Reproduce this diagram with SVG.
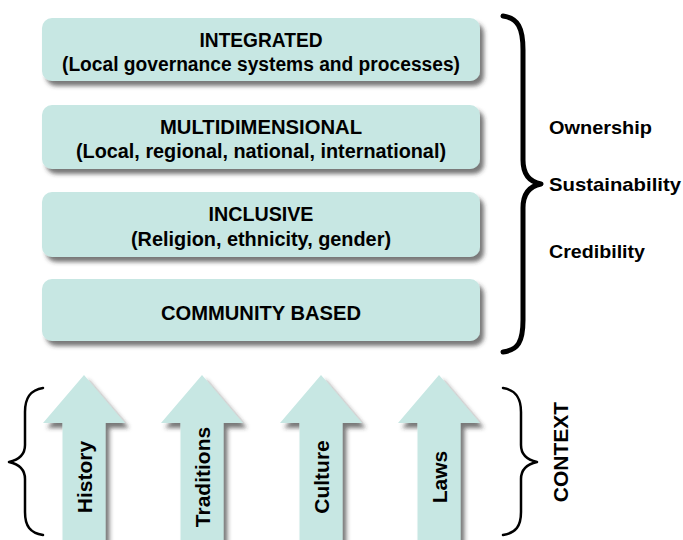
<svg xmlns="http://www.w3.org/2000/svg" width="683" height="540" viewBox="0 0 683 540">
<defs>
<filter id="sh" x="-10%" y="-20%" width="130%" height="150%">
<feDropShadow dx="4" dy="5" stdDeviation="2.2" flood-color="#333" flood-opacity="0.65"/>
</filter>
</defs>
<style>
.box{fill:#c7e7e3;filter:url(#sh)}
.arrow{fill:#c7e7e3;filter:url(#sh)}
.t{font-family:"Liberation Sans",Arial,sans-serif;font-weight:bold;font-size:20px;fill:#000;text-anchor:middle}
.s{font-family:"Liberation Sans",Arial,sans-serif;font-weight:bold;font-size:19px;fill:#000}
.v{font-family:"Liberation Sans",Arial,sans-serif;font-weight:bold;font-size:21px;fill:#000;text-anchor:middle}
.brace{fill:none;stroke:#000;stroke-linecap:round;stroke-linejoin:round}
</style>
<rect width="683" height="540" fill="#fff"/>
<g id="integrated">
<rect class="box" x="42" y="18" width="438" height="63" rx="10"/>
<text class="t" x="261" y="47" textLength="123" lengthAdjust="spacingAndGlyphs">INTEGRATED</text>
<text class="t" x="261" y="71" textLength="398" lengthAdjust="spacingAndGlyphs">(Local governance systems and processes)</text>
</g>
<g id="multidimensional">
<rect class="box" x="42" y="105" width="438" height="64" rx="10"/>
<text class="t" x="261" y="134" textLength="202" lengthAdjust="spacingAndGlyphs">MULTIDIMENSIONAL</text>
<text class="t" x="261" y="158" textLength="370" lengthAdjust="spacingAndGlyphs">(Local, regional, national, international)</text>
</g>
<g id="inclusive">
<rect class="box" x="42" y="192" width="438" height="65" rx="10"/>
<text class="t" x="261" y="221" textLength="105" lengthAdjust="spacingAndGlyphs">INCLUSIVE</text>
<text class="t" x="261" y="246" textLength="260" lengthAdjust="spacingAndGlyphs">(Religion, ethnicity, gender)</text>
</g>
<g id="community">
<rect class="box" x="42" y="279" width="438" height="62" rx="10"/>
<text class="t" x="261" y="320" textLength="200" lengthAdjust="spacingAndGlyphs">COMMUNITY BASED</text>
</g>
<g id="brace-right">
<path class="brace" stroke-width="5" d="M503,16 C518,18 523,28 523,50 L523,160 C523,175 530,182 541,184 C530,186 523,193 523,208 L523,320 C523,342 518,350 503,352"/>
</g>
<g id="qualities">
<text class="s" x="549" y="134" textLength="103" lengthAdjust="spacingAndGlyphs">Ownership</text>
<text class="s" x="549" y="191" textLength="132" lengthAdjust="spacingAndGlyphs">Sustainability</text>
<text class="s" x="549" y="258" textLength="96" lengthAdjust="spacingAndGlyphs">Credibility</text>
</g>
<g id="connectors">
<g id="arrow-history">
<polygon class="arrow" points="84,375 125,423 105.5,423 105.5,548 62.5,548 62.5,423 43,423"/>
<text class="v" transform="translate(91.5,477) rotate(-90)">History</text>
</g>
<g id="arrow-traditions">
<polygon class="arrow" points="202,375 243,423 223.5,423 223.5,548 180.5,548 180.5,423 161,423"/>
<text class="v" transform="translate(209.5,477) rotate(-90)">Traditions</text>
</g>
<g id="arrow-culture">
<polygon class="arrow" points="321,375 362,423 342.5,423 342.5,548 299.5,548 299.5,423 280,423"/>
<text class="v" transform="translate(328.5,477) rotate(-90)">Culture</text>
</g>
<g id="arrow-laws">
<polygon class="arrow" points="439,375 480,423 460.5,423 460.5,548 417.5,548 417.5,423 398,423"/>
<text class="v" transform="translate(446.5,477) rotate(-90)">Laws</text>
</g>
</g>
<g id="context">
<path class="brace" stroke-width="2.5" d="M43,388 C30,390 25,398 25,412 L25,445 C25,455 18,460 9,462 C18,464 25,469 25,479 L25,512 C25,526 30,533 43,535"/>
<path class="brace" stroke-width="2.5" d="M503,388 C516,390 521,398 521,412 L521,445 C521,455 528,460 537,462 C528,464 521,469 521,479 L521,512 C521,526 516,533 503,535"/>
<text class="v" font-size="20" transform="translate(568,452) rotate(-90)">CONTEXT</text>
</g>
</svg>
